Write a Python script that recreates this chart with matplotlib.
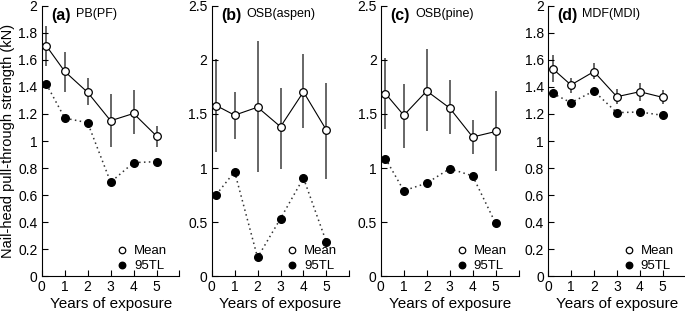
import numpy as np
import matplotlib
matplotlib.use('Agg')
import matplotlib.pyplot as plt

plt.rcParams['font.family'] = ['Liberation Sans', 'DejaVu Sans']

years = [0.2, 1, 2, 3, 4, 5]

# (a) PB(PF)
pb_mean = [1.704, 1.515, 1.36, 1.15, 1.204, 1.037]
pb_hi = [1.852, 1.661, 1.47, 1.347, 1.377, 1.111]
pb_lo = [1.557, 1.365, 1.264, 0.953, 1.049, 0.956]
pb_tl = [1.421, 1.17, 1.135, 0.695, 0.84, 0.847]

# (b) OSB(aspen)
osba_mean = [1.578, 1.489, 1.563, 1.382, 1.705, 1.351]
osba_hi = [2.012, 1.708, 2.175, 1.745, 2.052, 1.79]
osba_lo = [1.145, 1.268, 0.96, 0.99, 1.369, 0.898]
osba_tl = [0.754, 0.966, 0.172, 0.532, 0.908, 0.314]

# (c) OSB(pine)
osbp_mean = [1.689, 1.488, 1.713, 1.555, 1.287, 1.338]
osbp_hi = [2.015, 1.78, 2.098, 1.811, 1.445, 1.71]
osbp_lo = [1.363, 1.186, 1.345, 1.314, 1.134, 0.976]
osbp_tl = [1.088, 0.79, 0.86, 0.994, 0.927, 0.488]

# (d) MDF(MDI)
mdf_mean = [1.536, 1.415, 1.514, 1.328, 1.365, 1.323]
mdf_hi = [1.635, 1.469, 1.575, 1.383, 1.432, 1.378]
mdf_lo = [1.437, 1.358, 1.457, 1.272, 1.296, 1.272]
mdf_tl = [1.353, 1.284, 1.37, 1.21, 1.215, 1.19]

panels = [('(a)', 'PB(PF)', pb_mean, pb_hi, pb_lo, pb_tl),
          ('(b)', 'OSB(aspen)', osba_mean, osba_hi, osba_lo, osba_tl),
          ('(c)', 'OSB(pine)', osbp_mean, osbp_hi, osbp_lo, osbp_tl),
          ('(d)', 'MDF(MDI)', mdf_mean, mdf_hi, mdf_lo, mdf_tl)]

ticks_2 = [0, 0.2, 0.4, 0.6, 0.8, 1, 1.2, 1.4, 1.6, 1.8, 2]
labels_2 = ['0', '0.2', '0.4', '0.6', '0.8', '1', '1.2', '1.4', '1.6', '1.8', '2']
ticks_25 = [0, 0.5, 1, 1.5, 2, 2.5]
labels_25 = ['0', '0.5', '1', '1.5', '2', '2.5']
xticks = [0, 1, 2, 3, 4, 5, 6]
xlabels = ['0', '1', '2', '3', '4', '5', '']

fig = plt.figure(figsize=(6.85, 3.13), dpi=100)
lefts = [0.061, 0.309, 0.556, 0.800]

for i, (tag, name, mean, hi, lo, tl) in enumerate(panels):
    ax = fig.add_axes([lefts[i], 0.118, 0.201, 0.863])
    mean = np.array(mean)
    err = [mean - np.array(lo), np.array(hi) - mean]
    ax.errorbar(years, mean, yerr=err, fmt='none', ecolor='#5a5a5a', elinewidth=1.3, capsize=0, zorder=1)
    ax.plot(years, mean, '-', color='black', lw=0.8, zorder=2)
    ax.plot(years, mean, 'o', mfc='white', mec='black', mew=0.9, ms=5.5, zorder=3, label='Mean')
    ax.plot(years, tl, color='#333333', lw=1.1, dashes=(1, 2.2), zorder=2)
    ax.plot(years, tl, 'o', color='black', ms=5.5, zorder=3, label='95TL')

    ax.set_xlim(0, 6)
    ax.set_xticks(xticks)
    ax.set_xticklabels(xlabels, fontsize=10)
    if i in (1, 2):
        ax.set_ylim(0, 2.5)
        ax.set_yticks(ticks_25)
        ax.set_yticklabels(labels_25, fontsize=10)
    else:
        ax.set_ylim(0, 2)
        ax.set_yticks(ticks_2)
        ax.set_yticklabels(labels_2, fontsize=10)
    ax.spines['top'].set_visible(False)
    ax.spines['right'].set_visible(False)
    ax.tick_params(direction='in', length=4, width=0.8, pad=3)
    ax.set_xlabel('Years of exposure', fontsize=11, labelpad=2)
    if i == 0:
        ax.set_ylabel('Nail-head pull-through strength (kN)', fontsize=10.5, labelpad=2)

    ax.text(0.07, 0.965, tag, transform=ax.transAxes, fontsize=11.5, fontweight='bold', va='center')
    ax.text(0.25, 0.97, name, transform=ax.transAxes, fontsize=9, va='center')

    ax.legend(loc='lower right', bbox_to_anchor=(0.98, -0.02), frameon=False, fontsize=9.5,
              markerscale=0.85, handlelength=0.8, handletextpad=0.5, labelspacing=0.2, borderpad=0.2)

plt.savefig('out.png', dpi=100)
